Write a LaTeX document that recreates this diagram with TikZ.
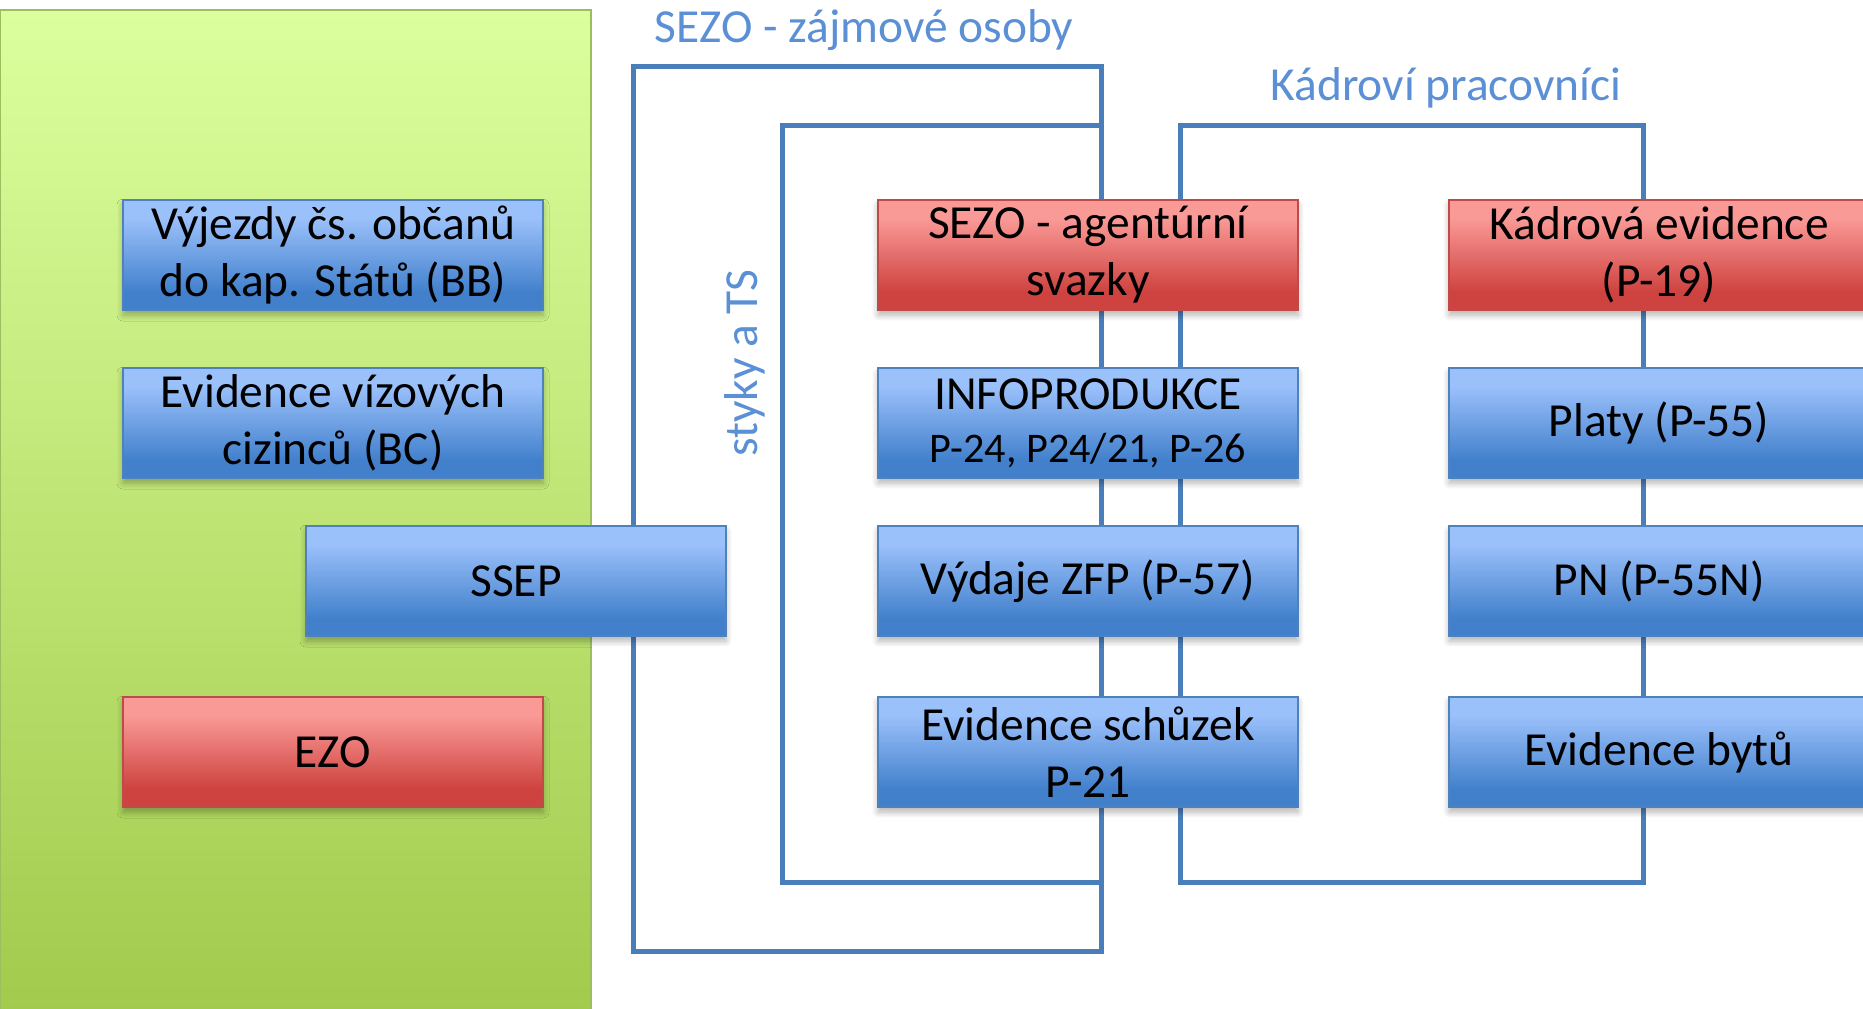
\documentclass[tikz,border=0pt]{standalone}
\usepackage{fontspec}
\setmainfont{Carlito}
\usetikzlibrary{shadows.blur}

\definecolor{linkblue}{HTML}{4A7EBB}
\definecolor{labelblue}{HTML}{5B8FD6}
\definecolor{bluetop}{HTML}{9BC1FB}
\definecolor{bluebot}{HTML}{4280CC}
\definecolor{blueedge}{HTML}{4F81BD}
\definecolor{redtop}{HTML}{FA9A97}
\definecolor{redbot}{HTML}{CE423F}
\definecolor{rededge}{HTML}{BE4B48}
\definecolor{greentop}{HTML}{DCFF9E}
\definecolor{greenbot}{HTML}{A2CA4C}
\definecolor{greenedge}{HTML}{9DBD5E}
\pgfdeclareverticalshading{greenfade}{100bp}{color(0bp)=(greenbot); color(25bp)=(greenbot); color(75bp)=(greentop); color(100bp)=(greentop)}
\pgfdeclareverticalshading{bluefade}{100bp}{color(0bp)=(bluebot); color(33bp)=(bluebot); color(67bp)=(bluetop); color(100bp)=(bluetop)}
\pgfdeclareverticalshading{redfade}{100bp}{color(0bp)=(redbot); color(33bp)=(redbot); color(67bp)=(redtop); color(100bp)=(redtop)}

\begin{document}
\begin{tikzpicture}[x=0.1mm,y=-0.1mm,
    font=\fontsize{13.5}{16.2}\selectfont,
    box/.style={rectangle, minimum width=42mm, minimum height=11mm, inner sep=0pt,
        align=center, line width=0.6pt,
        blur shadow={shadow xshift=0mm, shadow yshift=-0.5mm, shadow blur radius=0.6mm, shadow blur steps=6, shadow opacity=30}},
    bluebox/.style={box, draw=blueedge, shading=bluefade},
    redbox/.style={box, draw=rededge, shading=redfade},
    bracket/.style={draw=linkblue, line width=0.5mm},
    caption/.style={text=labelblue}]
    \useasboundingbox (0,0) rectangle (1863,1008);
    \clip (0,0) rectangle (1863,1008);

    % green area
    \path[shading=greenfade, draw=greenedge, line width=0.6pt] (0,10) rectangle (591,1015);

    % frames behind the boxes
    \coordinate (sezoNW) at (633,66);
    \coordinate (sezoSE) at (1101,951);
    \coordinate (stykyNW) at (782,125);
    \coordinate (stykySE) at (1101,882);
    \coordinate (kadrNW) at (1180,125);
    \coordinate (kadrSE) at (1643,882);
    \draw[bracket] (sezoNW) rectangle (sezoSE);
    \draw[bracket] (stykyNW) rectangle (stykySE);
    \draw[bracket] (kadrNW) rectangle (kadrSE);

    \node[caption, anchor=base] (sezolbl) at (864,42) {SEZO - zájmové osoby};
    \node[caption, anchor=base] (kadrlbl) at (1446,100) {Kádroví pracovníci};
    \node[caption, rotate=90] (stykylbl) at (745,363) {styky a TS};

    % left column
    \node[bluebox] (vyjezdy) at (333,255) {Výjezdy čs. občanů\\do kap. Států (BB)};
    \node[bluebox] (vizove) at (333,423) {Evidence vízových\\cizinců (BC)};
    \node[bluebox] (ssep) at (516,581) {SSEP};
    \node[redbox] (ezo) at (333,752) {EZO};

    % middle column
    \node[redbox] (agent) at (1088,255) {SEZO - agentúrní\\svazky};
    \node[bluebox] (info) at (1088,423) {INFOPRODUKCE\\[-1pt]{\fontsize{12}{14}\selectfont P-24, P24/21, P-26}};
    \node[bluebox] (zfp) at (1088,581) {Výdaje ZFP (P-57)};
    \node[bluebox] (schuzky) at (1088,752) {Evidence schůzek\\P-21};

    % right column
    \node[redbox] (kadr) at (1659,255) {Kádrová evidence\\(P-19)};
    \node[bluebox] (platy) at (1659,423) {Platy (P-55)};
    \node[bluebox] (pn) at (1659,581) {PN (P-55N)};
    \node[bluebox] (byty) at (1659,752) {Evidence bytů};
\end{tikzpicture}
\end{document}
